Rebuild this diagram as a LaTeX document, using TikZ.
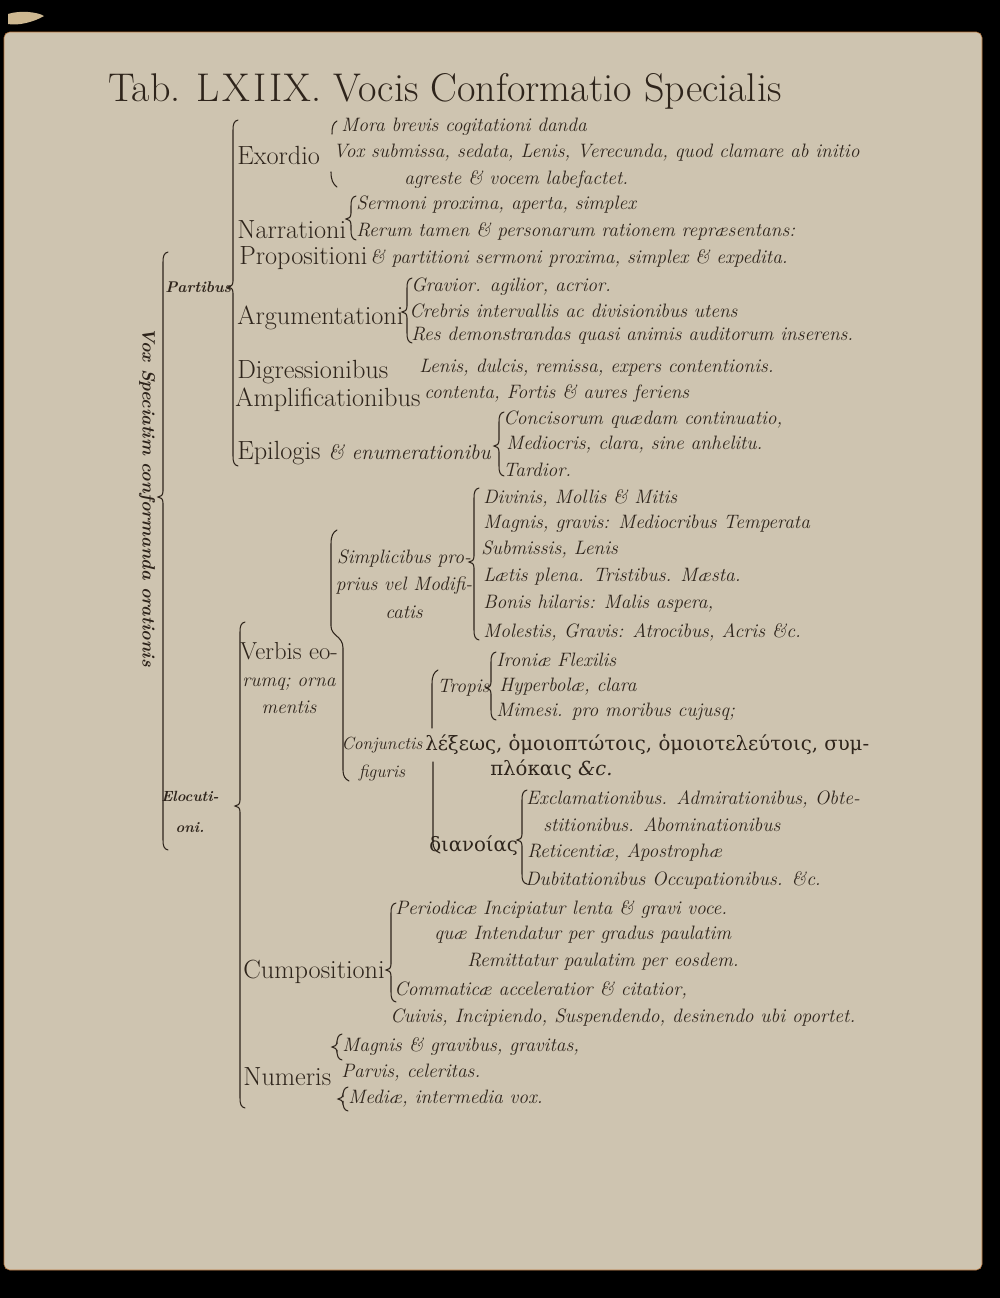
\documentclass[tikz,border=0pt]{standalone}
\usepackage{fontspec}
\newfontfamily\greekfont{DejaVu Serif}
\usepackage{tikz}
\definecolor{TabInk}{HTML}{2E241B}
\definecolor{TabPage}{HTML}{CEC4B0}
\definecolor{TabEdge}{HTML}{B8743A}
\definecolor{TabScrap}{HTML}{CDB891}
\newcommand{\headfont}{\fontsize{18.7}{19.5}\selectfont\upshape}
\newcommand{\glossfont}{\fontsize{13.8}{19.5}\selectfont\itshape}
% brace: x, top, middle, bottom (pixel units)
\newcommand{\tabbrace}[4]{%
  \draw[tabbrk] (#1+5,#2) .. controls (#1+1,#2+1) and (#1,#2+4) .. (#1,#2+10)
    -- (#1,#3-6) .. controls (#1,#3-2) and (#1-2,#3) .. (#1-5,#3)
    .. controls (#1-2,#3) and (#1,#3+2) .. (#1,#3+6)
    -- (#1,#4-10) .. controls (#1,#4-4) and (#1+1,#4-1) .. (#1+5,#4);}
\tikzset{
  tabhead/.style={anchor=west, inner sep=0pt, text=TabInk, font=\headfont},
  tabgloss/.style={anchor=west, inner sep=0pt, text=TabInk, font=\glossfont},
  tabgreek/.style={anchor=west, inner sep=0pt, text=TabInk,
    font=\fontsize{14}{19.5}\selectfont\greekfont},
  tabbrk/.style={draw=TabInk, line width=0.75pt, line cap=round}
}

\begin{document}
\begin{tikzpicture}[x=0.025cm,y=-0.025cm]
  \useasboundingbox (0,0) rectangle (1000,1298);
  \fill[black] (0,0) rectangle (1000,1298);
  \fill[TabPage,draw=TabEdge,line width=0.4pt,rounded corners=4pt]
    (4,32) rectangle (982,1270);
  \fill[TabScrap] (8,14) .. controls (20,10) and (38,12) .. (44,16)
    .. controls (34,22) and (18,26) .. (8,24) -- cycle;

  \node[anchor=west,inner sep=0pt,text=TabInk,font=\fontsize{28.5}{30}\selectfont]
    (title) at (108,91)
    {Tab. L\kern2pt X\kern2pt I\kern2pt I\kern1pt X. Vocis Conformatio Specialis};

  % root
  \node[rotate=-90,inner sep=0pt,text=TabInk,font=\fontsize{12.7}{14}\selectfont\bfseries\itshape]
    (vox) at (147,497) {Vox Speciatim conformanda orationis};
  \tabbrace{163}{252}{497}{850}

  % Partibus
  \node[tabgloss,font=\fontsize{11}{13}\selectfont\bfseries\itshape] (partibus) at (165,287) {Partibus};
  \tabbrace{233}{120}{287}{466}

  \node[tabhead] (exordio) at (237,155) {Exordio};
  \draw[tabbrk] (337,121) .. controls (333,123) and (332,127) .. (332,134);
  \draw[tabbrk] (331,172) .. controls (331,180) and (333,184) .. (337,187);
  \node[tabgloss] (mora) at (341,127) {Mora brevis cogitationi danda};
  \node[tabgloss] (voxsub) at (333,153) {Vox submissa, sedata, Lenis, Verecunda, quod clamare ab initio};
  \node[tabgloss] (agreste) at (404,180) {agreste \& vocem labefactet.};

  \node[tabhead] (narrationi) at (237,230) {Narrationi};
  \tabbrace{351}{196}{219}{240}
  \node[tabgloss] (sermoni) at (356,205) {Sermoni proxima, aperta, simplex};
  \node[tabgloss] (rerum) at (356,231) {Rerum tamen \& personarum rationem repræsentans:};

  \node[tabhead] (propositioni) at (239,258) {Propositioni};
  \node[tabgloss] (partitioni) at (370,258) {\& partitioni sermoni proxima, simplex \& expedita.};

  \node[tabhead] (argument) at (237,318) {Argumentationi};
  \tabbrace{407}{278}{312}{343}
  \node[tabgloss] (gravior) at (411,287) {Gravior. agilior, acrior.};
  \node[tabgloss] (crebris) at (409,311) {Crebris intervallis ac divisionibus utens};
  \node[tabgloss] (resdem) at (411,336) {Res demonstrandas quasi animis auditorum inserens.};

  \node[tabhead] (digress) at (237,372) {Digressionibus};
  \node[tabgloss] (dulcis) at (419,368) {Lenis, dulcis, remissa, expers contentionis.};

  \node[tabhead] (amplif) at (235,400) {Amplificationibus};
  \node[tabgloss] (contenta) at (424,394) {contenta, Fortis \& aures feriens};

  \node[tabhead] (epilogis) at (237,453)
    {Epilogis {\fontsize{15}{19.5}\selectfont\itshape\& enumerationibu}};
  \tabbrace{499}{412}{446}{476}
  \node[tabgloss] (concis) at (503,420) {Concisorum quædam continuatio,};
  \node[tabgloss] (mediocris) at (506,445) {Mediocris, clara, sine anhelitu.};
  \node[tabgloss] (tardior) at (503,470) {Tardior.};

  % Elocutioni
  \node[tabgloss,anchor=center,align=center,font=\fontsize{10.5}{22}\selectfont\bfseries\itshape]
    (elocutioni) at (190,812) {Elocuti-\\oni.};
  \tabbrace{240}{622}{806}{1108}

  \node[tabgloss,anchor=center,align=center] (verbis) at (289,678)
    {{\fontsize{17.5}{19.5}\selectfont\upshape Verbis eo-}\\rumq; orna\\mentis};
  \draw[tabbrk] (337,530) .. controls (333,532) and (331,536) .. (331,544)
    -- (331,626) .. controls (331,636) and (343,636) .. (343,648)
    -- (343,770) .. controls (343,776) and (345,779) .. (349,781);

  \node[tabgloss,anchor=center,align=center] (simplic) at (404,584)
    {Simplicibus pro-\\prius vel Modifi-\\catis};
  \tabbrace{474}{488}{562}{640}
  \node[tabgloss] (divinis) at (483,498) {Divinis, Mollis \& Mitis};
  \node[tabgloss] (magnis) at (483,524) {Magnis, gravis: Mediocribus Temperata};
  \node[tabgloss] (submissis) at (481,550) {Submissis, Lenis};
  \node[tabgloss] (laetis) at (483,577) {Lætis plena. Tristibus. Mæsta.};
  \node[tabgloss] (bonis) at (483,604) {Bonis hilaris: Malis aspera,};
  \node[tabgloss] (molestis) at (483,632) {Molestis, Gravis: Atrocibus, Acris \&c.};

  \node[tabgloss,anchor=center,align=center,font=\fontsize{12.5}{19.5}\selectfont\itshape]
    (conjunct) at (382,759) {Conjunctis\\figuris};
  \draw[tabbrk] (438,670) .. controls (434,672) and (432,676) .. (432,684) -- (432,728);
  \draw[tabbrk] (433,762) -- (433,842) .. controls (433,848) and (435,851) .. (440,853);

  \node[tabgloss] (tropis) at (437,688) {Tropis};
  \tabbrace{491}{652}{688}{720}
  \node[tabgloss] (ironia) at (496,660) {Ironiæ Flexilis};
  \node[tabgloss] (hyperb) at (499,687) {Hyperbolæ, clara};
  \node[tabgloss] (mimesi) at (496,712) {Mimesi. pro moribus cujusq;};

  \node[tabgreek] (lexeos) at (425,744) {λέξεως, ὁμοιοπτώτοις, ὁμοιοτελεύτοις, συμ-};
  \node[tabgreek] (ploki) at (490,770) {πλόκαις {\glossfont\&c.}};

  \node[tabgreek] (dianoias) at (429,846) {διανοίας};
  \tabbrace{522}{790}{840}{884}
  \node[tabgloss] (exclam) at (526,799) {Exclamationibus. Admirationibus, Obte-};
  \node[tabgloss] (stition) at (543,825) {stitionibus. Abominationibus};
  \node[tabgloss] (retic) at (527,852) {Reticentiæ, Apostrophæ};
  \node[tabgloss] (dubit) at (525,880) {Dubitationibus Occupationibus. \&c.};

  \node[tabhead] (cumpos) at (243,972) {Cumpositioni};
  \tabbrace{391}{903}{970}{1002}
  \node[tabgloss] (periodic) at (395,910) {Periodicæ Incipiatur lenta \& gravi voce.};
  \node[tabgloss] (quae) at (434,935) {quæ Intendatur per gradus paulatim};
  \node[tabgloss] (remitt) at (467,962) {Remittatur paulatim per eosdem.};
  \node[tabgloss] (commat) at (394,990) {Commaticæ acceleratior \& citatior,};
  \node[tabgloss] (cuivis) at (390,1018) {Cuivis, Incipiendo, Suspendendo, desinendo ubi oportet.};

  \node[tabhead] (numeris) at (243,1077) {Numeris};
  \tabbrace{337}{1034}{1047}{1060}
  \tabbrace{343}{1087}{1099}{1111}
  \node[tabgloss] (magnisgr) at (342,1047) {Magnis \& gravibus, gravitas,};
  \node[tabgloss] (parvis) at (341,1073) {Parvis, celeritas.};
  \node[tabgloss] (mediae) at (348,1099) {Mediæ, intermedia vox.};
\end{tikzpicture}
\end{document}
